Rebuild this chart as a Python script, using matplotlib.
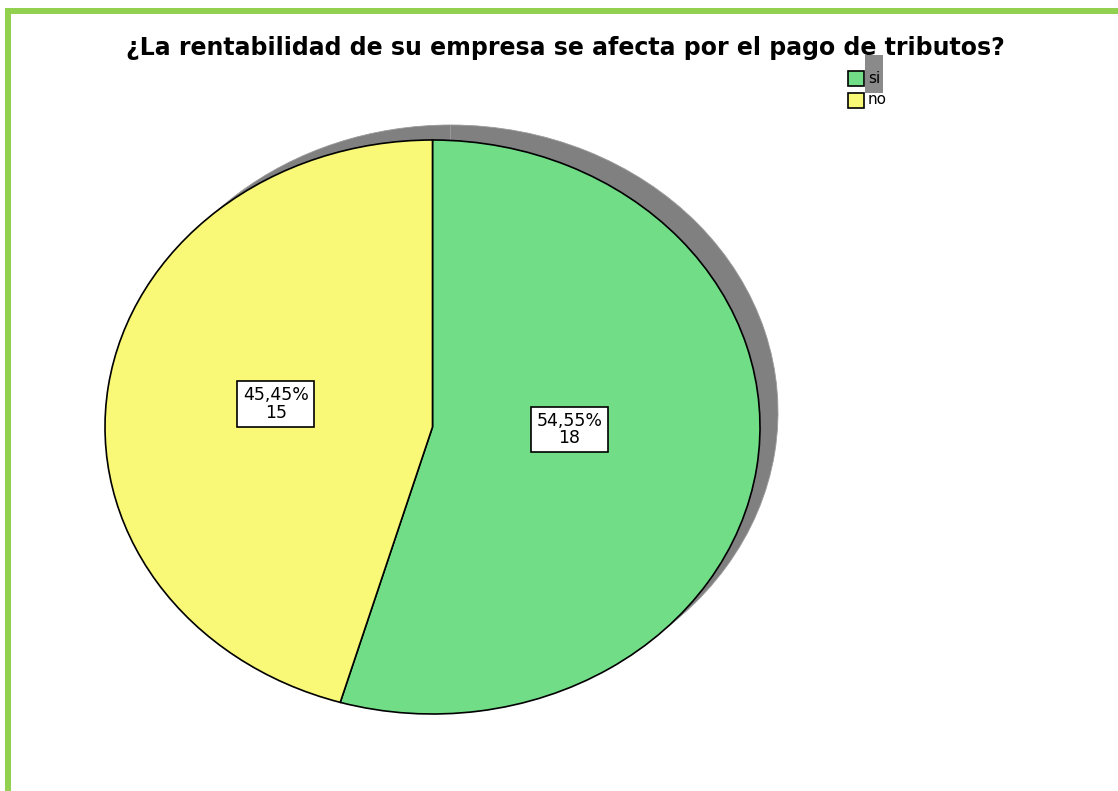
import matplotlib
matplotlib.use("Agg")
import matplotlib.pyplot as plt
from matplotlib.patches import Rectangle

title = "¿La rentabilidad de su empresa se afecta por el pago de tributos?"
categories = ["si", "no"]
counts = [18, 15]
percents = ["54,55%", "45,45%"]
colors = ["#71DD87", "#FAF877"]
shadow_color = "#808080"

W, H = 1118, 791
fig = plt.figure(figsize=(W / 100, H / 100), dpi=100)
fig.patch.set_facecolor("white")

# background axes in pixel coords
bg = fig.add_axes([0, 0, 1, 1])
bg.set_xlim(0, W)
bg.set_ylim(H, 0)
bg.axis("off")
bg.plot([8, 8, W + 10], [H + 10, 11, 11], color="#92D050", lw=6 * 0.72,
        solid_capstyle="projecting", solid_joinstyle="miter")

# pie axes over the ellipse bounding box
cx, cy, rx, ry = 432.5, 427, 327.5, 287
ax = fig.add_axes([(cx - rx) / W, (H - (cy + ry)) / H, 2 * rx / W, 2 * ry / H])
ax.axis("off")

# shadow
dx, dy = 18 / rx, 15 / ry
sw, _ = ax.pie(counts, colors=[shadow_color] * 2, startangle=90, counterclock=False,
               radius=1.0, center=(dx, dy),
               wedgeprops=dict(linewidth=0.6, edgecolor="#9a9a9a"))
for w in sw:
    w.set_zorder(0)
    w.set_clip_on(False)
wedges, _ = ax.pie(counts, colors=colors, startangle=90, counterclock=False,
                   radius=1.0, center=(0, 0),
                   wedgeprops=dict(linewidth=1.2, edgecolor="black"))
for w in wedges:
    w.set_zorder(2)
    w.set_clip_on(False)
ax.set_aspect("auto")
ax.set_xlim(-1, 1)
ax.set_ylim(-1, 1)

label_pos = [(0.418, -0.009), (-0.479, 0.08)]
for (x, y), p, c in zip(label_pos, percents, counts):
    ax.text(x, y, f"{p}\n{c}", ha="center", va="center", fontsize=12.5,
            family="DejaVu Sans", linespacing=0.95, zorder=5,
            bbox=dict(boxstyle="square,pad=0.3", fc="white", ec="black", lw=1.2))

# title
fig.text(565 / W, 1 - 48 / H, title, ha="center", va="center", fontsize=17,
         fontweight="bold", family="DejaVu Sans")

# legend (with the gray artifact)
bg.add_patch(Rectangle((865, 55), 18, 38, fc="#8a8a8a", ec="none", zorder=1))
leg_y = [78.5, 100]
for cat, col, y in zip(categories, colors, leg_y):
    bg.add_patch(Rectangle((848, y - 7.5), 16, 15, fc=col, ec="black", lw=1.2, zorder=3))
    bg.text(868, y, cat, ha="left", va="center", fontsize=11, family="DejaVu Sans", zorder=4)

fig.savefig("out.png", dpi=100, facecolor="white")
